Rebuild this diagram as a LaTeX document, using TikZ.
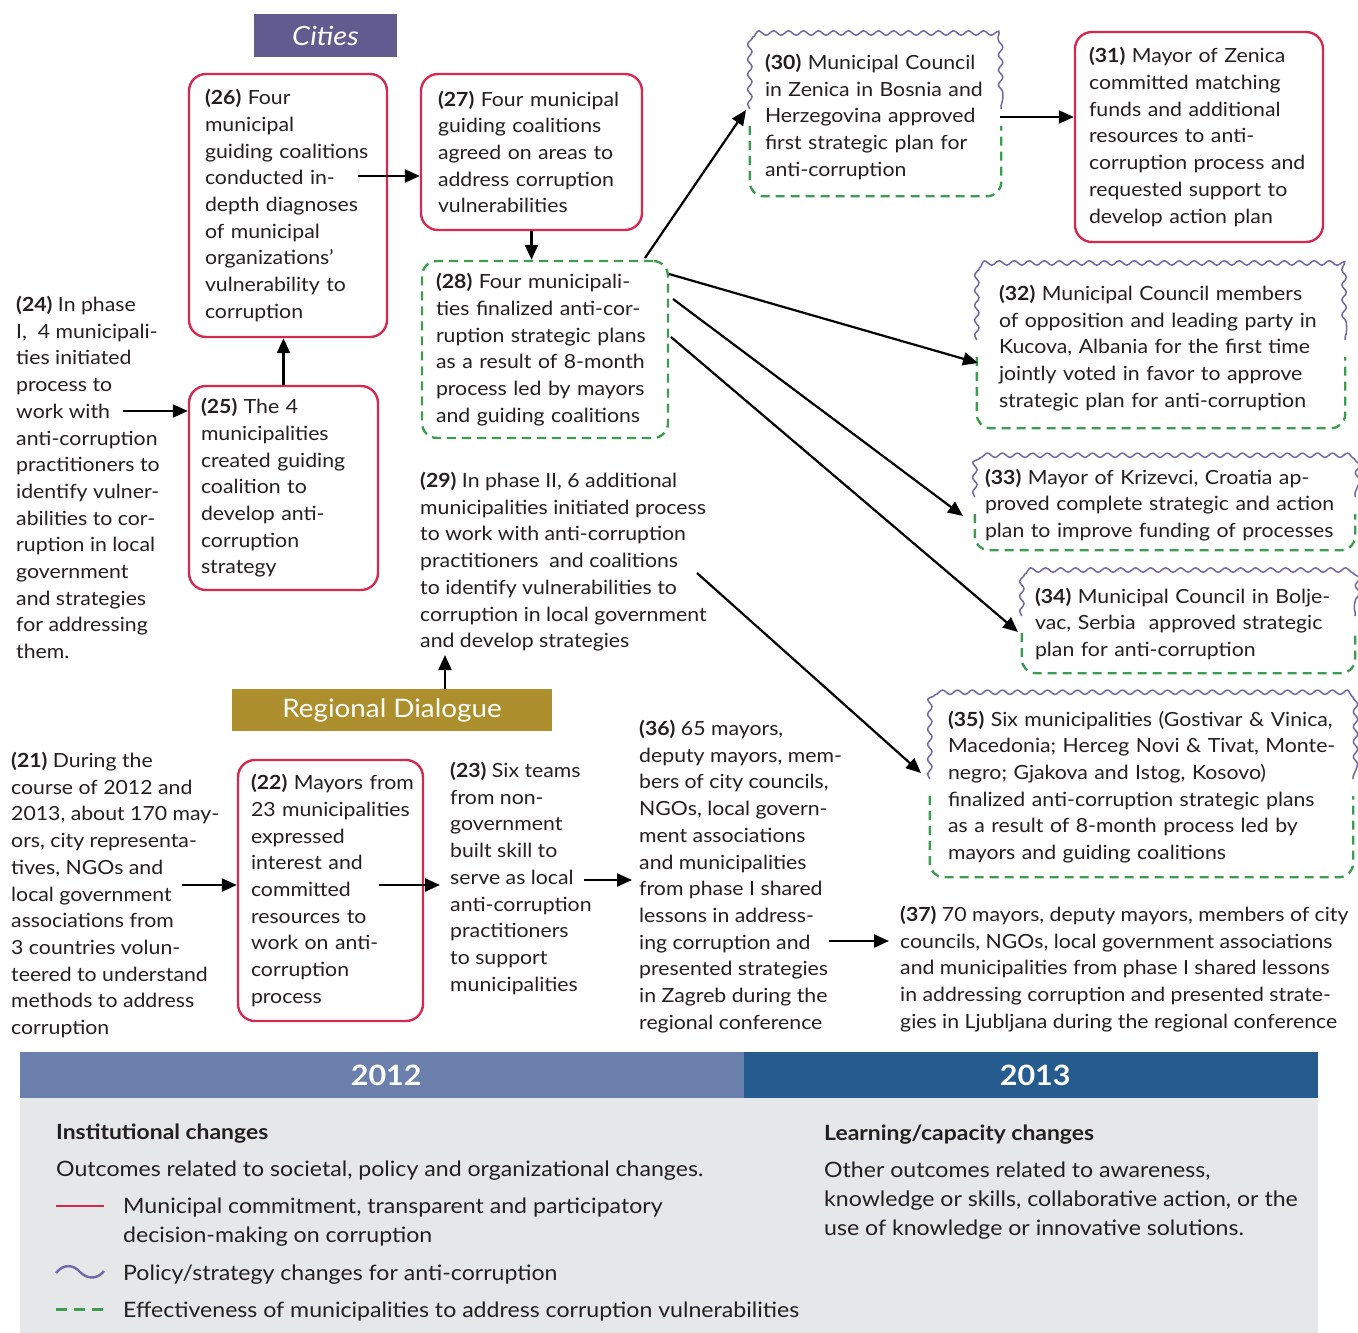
\documentclass[tikz,border=0pt]{standalone}
\usepackage{fontspec}
\setmainfont{Lato}[FakeStretch=1.09]
\usetikzlibrary{arrows.meta,decorations.pathmorphing,calc}
\definecolor{cred}{HTML}{D42A4F}
\definecolor{cpurp}{HTML}{6E69A8}
\definecolor{cgreen}{HTML}{3D9B52}
\definecolor{ctext}{HTML}{231F20}
\definecolor{ccity}{HTML}{625B90}
\definecolor{cgold}{HTML}{AE8F2E}
\definecolor{cyA}{HTML}{6A7FAB}
\definecolor{cyB}{HTML}{255B8E}
\definecolor{cpanel}{HTML}{E6E7E8}
\begin{document}
\begin{tikzpicture}[x=1pt,y=-1pt,
  every node/.style={text=ctext},
  bodyfont/.style={font=\fontsize{19.5}{26.7}\selectfont},
  body/.style={bodyfont, align=left, inner sep=0pt, anchor=north west},
  boxbase/.style={bodyfont, align=left, inner ysep=0pt,
     execute at begin node={\hyphenpenalty=10000 \exhyphenpenalty=10000 \hbadness=10000 \hfuzz=100pt }},
  redbox/.style={boxbase, draw=cred, line width=2.4pt, rounded corners=17pt},
  plainbox/.style={boxbase},
  greenbox/.style={boxbase, draw=cgreen, line width=2.4pt, dash pattern=on 9pt off 6pt, rounded corners=15pt},
  arr/.style={-{Triangle[length=15pt,width=13pt]}, line width=2.2pt, black},
  wavy/.style={draw=cpurp, line width=1.5pt, decorate, decoration={snake, amplitude=2.2pt, segment length=15pt}},
  dashg/.style={draw=cgreen, line width=2.4pt, dash pattern=on 9pt off 6pt, rounded corners=14pt},
  legfont/.style={font=\fontsize{21.2}{29}\selectfont},
]
\useasboundingbox (0,0) rectangle (1358,1333);

% ---------- labels
\node[fill=ccity, text=white, minimum width=143pt, minimum height=43pt, inner sep=0pt,
      font=\itshape\fontsize{26.5}{26.5}\selectfont] (cities) at (325.5,35.5) {Cities};
\node[fill=cgold, text=white, minimum width=320pt, minimum height=42pt, inner sep=0pt,
      font=\fontsize{25.5}{25.5}\selectfont] (rd) at (392,710) {Regional Dialogue};

% ---------- boxes
\node[redbox, text width=166pt, inner xsep=16pt, minimum height=263pt] (b26) at (288,205.5)
 {\textbf{(26)}~Four\\municipal\\guiding~coalitions\\conducted~in-\\depth~diagnoses\\of~municipal\\organizations’\\vulnerability~to\\corruption};
\node[redbox, text width=187pt, inner xsep=17pt, minimum height=156pt] (b27) at (531.5,152)
 {\textbf{(27)}~Four~municipal\\guiding~coalitions\\agreed~on~areas~to\\address~corruption\\vulnerabilities};
\node[redbox, text width=165pt, inner xsep=12pt, minimum height=204pt] (b25) at (283.5,488)
 {\textbf{(25)}~The~4\\municipalities\\created~guiding\\coalition~to\\develop~anti-\\corruption\\strategy};
\node[greenbox, text width=218pt, inner xsep=14pt, minimum height=177pt] (b28) at (545,349.5)
 {\textbf{(28)}~Four~municipali-\\ties~finalized~anti-cor-\\ruption~strategic~plans\\as~a~result~of~8-month\\process~led~by~mayors\\and~guiding~coalitions};
\node[plainbox, text width=221pt, inner xsep=15pt, minimum height=158pt] (b30) at (875.5,117)
 {\textbf{(30)}~Municipal~Council\\in~Zenica~in~Bosnia~and\\Herzegovina~approved\\first~strategic~plan~for\\anti-corruption};
\node[redbox, text width=220pt, inner xsep=14pt, minimum height=210pt] (b31) at (1199,137)
 {\textbf{(31)}~Mayor~of~Zenica\\committed~matching\\funds~and~additional\\resources~to~anti-\\corruption~process~and\\requested~support~to\\develop~action~plan};
\node[plainbox, text width=324pt, inner xsep=22pt, minimum height=160pt] (b32) at (1161,348)
 {\textbf{(32)}~Municipal~Council~members\\of~opposition~and~leading~party~in\\Kucova,~Albania~for~the~first~time\\jointly~voted~in~favor~to~approve\\strategic~plan~for~anti-corruption};
\node[plainbox, text width=360pt, inner xsep=10pt, minimum height=90pt] (b33) at (1165,505)
 {\textbf{(33)}~Mayor~of~Krizevci,~Croatia~ap-\\proved~complete~strategic~and~action\\plan~to~improve~funding~of~processes};
\node[plainbox, text width=307pt, inner xsep=13pt, minimum height=98pt] (b34) at (1188.5,624)
 {\textbf{(34)}~Municipal~Council~in~Bolje-\\vac,~Serbia~~approved~strategic\\plan~for~anti-corruption};
\node[plainbox, text width=387pt, inner xsep=18pt, minimum height=180pt] (b35) at (1141.5,787)
 {\textbf{(35)}~Six~municipalities~(Gostivar~\&~Vinica,\\Macedonia;~Herceg~Novi~\&~Tivat,~Monte-\\negro;~Gjakova~and~Istog,~Kosovo)\\finalized~anti-corruption~strategic~plans\\as~a~result~of~8-month~process~led~by\\mayors~and~guiding~coalitions};
\node[redbox, text width=159pt, inner xsep=13pt, minimum height=261pt] (b22) at (330.5,890.5)
 {\textbf{(22)}~Mayors~from\\23~municipalities\\expressed\\interest~and\\committed\\resources~to\\work~on~anti-\\corruption\\process};

% wavy / dashed borders of policy boxes
\foreach \n in {b30,b32,b33,b34,b35}{
  \draw[wavy] ([yshift=8pt]\n.west) -- ($(\n.north west)+(0,14)$)
     .. controls (\n.north west) .. ($(\n.north west)+(14,0)$)
     -- ($(\n.north east)+(-14,0)$)
     .. controls (\n.north east) .. ($(\n.north east)+(0,14)$)
     -- ([yshift=8pt]\n.east);
  \draw[dashg] ([yshift=-9pt]\n.west) |- (\n.south) -| ([yshift=-9pt]\n.east);
}

% ---------- free texts
\node[body] (t24) at (16,296)
 {\textbf{(24)} In phase\\I,\ \ 4 municipali-\\ties initiated\\process to\\work with\\anti-corruption\\practitioners to\\identify vulner-\\abilities to cor-\\ruption in local\\government\\and strategies\\for addressing\\them.};
\node[body] (t29) at (420,472)
 {\textbf{(29)} In phase II, 6 additional\\municipalities initiated process\\to work with anti-corruption\\practitioners\ \ and coalitions\\to identify vulnerabilities to\\corruption in local government\\and develop strategies};
\node[body] (t21) at (11,752)
 {\textbf{(21)} During the\\course of 2012 and\\2013, about 170 may-\\ors, city representa-\\tives, NGOs and\\local government\\associations from\\3 countries volun-\\teered to understand\\methods to address\\corruption};
\node[body] (t23) at (450,762)
 {\textbf{(23)} Six teams\\from non-\\government\\built skill to\\serve as local\\anti-corruption\\practitioners\\to support\\municipalities};
\node[body] (t36) at (639,720)
 {\textbf{(36)} 65 mayors,\\deputy mayors, mem-\\bers of city councils,\\NGOs, local govern-\\ment associations\\and municipalities\\from phase I shared\\lessons in address-\\ing corruption and\\presented strategies\\in Zagreb during the\\regional conference};
\node[body] (t37) at (900,906)
 {\textbf{(37)} 70 mayors, deputy mayors, members of city\\councils, NGOs, local government associations\\and municipalities from phase I shared lessons\\in addressing corruption and presented strate-\\gies in Ljubljana during the regional conference};

% ---------- connectors
\coordinate (s24) at (123,411);
\draw[arr] (s24) -- (s24 -| b25.west);
\draw[arr] (b25.north) -- (b25.north |- b26.south);
\coordinate (s26) at (358,176);
\draw[arr] (s26) -- (s26 -| b27.west);
\draw[arr] (b27.south) -- (b27.south |- b28.north);
\coordinate (s28a) at (645,258); \coordinate (e30) at (746,110);
\draw[arr] (s28a) -- (e30);
\coordinate (s28b) at (669,274); \coordinate (e32) at (978,363);
\draw[arr] (s28b) -- (e32);
\coordinate (s28c) at (673,299); \coordinate (e33) at (963,516);
\draw[arr] (s28c) -- (e33);
\coordinate (s28d) at (671,337); \coordinate (e34) at (1018,632);
\draw[arr] (s28d) -- (e34);
\coordinate (s29) at (697,573); \coordinate (e35) at (921,773);
\draw[arr] (s29) -- (e35);
\coordinate (s30) at (1000,117);
\draw[arr] (s30) -- (s30 -| b31.west);
\coordinate (rdt) at (445,689); \coordinate (e29) at (445,655);
\draw[arr] (rdt) -- (e29);
\coordinate (s21) at (182,885);
\draw[arr] (s21) -- (s21 -| b22.west);
\coordinate (s22) at (379,885); \coordinate (e23) at (440,885);
\draw[arr] (s22) -- (e23);
\coordinate (s23) at (584,880); \coordinate (e36) at (632,880);
\draw[arr] (s23) -- (e36);
\coordinate (s36) at (829,941); \coordinate (e37) at (889,941);
\draw[arr] (s36) -- (e37);

% ---------- bottom panel
\fill[cpanel] (20,1098) rectangle (1318,1333);
\node[fill=cyA, text=white, minimum width=724pt, minimum height=46pt, inner sep=0pt, anchor=north west,
      font=\bfseries\fontsize{28}{28}\selectfont] (y12) at (20,1052) {\hspace{8pt}2012};
\node[fill=cyB, text=white, minimum width=574pt, minimum height=46pt, inner sep=0pt, anchor=north west,
      font=\bfseries\fontsize{28}{28}\selectfont] (y13) at (744,1052) {\hspace{8pt}2013};

\node[legfont, font=\bfseries\fontsize{21}{29}\selectfont, anchor=west, inner sep=0pt] (l1) at (56,1134) {Institutional changes};
\node[legfont, anchor=west, inner sep=0pt] (l2) at (56,1171) {Outcomes related to societal, policy and organizational changes.};
\coordinate (kr1) at (56,1206); \coordinate (kr2) at (104,1206);
\draw[cred, line width=2.6pt] (kr1) -- (kr2);
\node[legfont, anchor=north west, inner sep=0pt, align=left] (l3) at (123,1198) {Municipal commitment, transparent and participatory\\decision-making on corruption};
\coordinate (kp1) at (56,1273); \coordinate (kp2) at (104,1271);
\draw[cpurp, line width=2.4pt] (kp1) .. controls (64,1263) and (74,1265) .. (80,1272) .. controls (87,1279) and (97,1280) .. (kp2);
\node[legfont, anchor=west, inner sep=0pt] (l4) at (123,1275) {Policy/strategy changes for anti-corruption};
\coordinate (kg1) at (56,1309); \coordinate (kg2) at (104,1309);
\draw[cgreen, line width=3pt, dash pattern=on 11pt off 7pt] (kg1) -- (kg2);
\node[legfont, anchor=west, inner sep=0pt] (l5) at (123,1311) {Effectiveness of municipalities to address corruption vulnerabilities};

\node[legfont, font=\bfseries\fontsize{21}{29}\selectfont, anchor=west, inner sep=0pt] (r1) at (824,1135) {Learning/capacity changes};
\node[legfont, anchor=north west, inner sep=0pt, align=left] (r2) at (824,1162) {Other outcomes related to awareness,\\knowledge or skills, collaborative action, or the\\use of knowledge or innovative solutions.};
\end{tikzpicture}
\end{document}
